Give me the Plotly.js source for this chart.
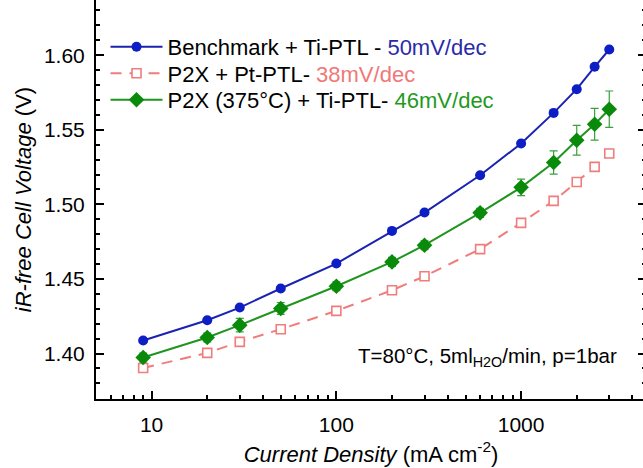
<!DOCTYPE html>
<html>
<head>
<meta charset="utf-8">
<script src="https://cdn.plot.ly/plotly-3.0.1.min.js"></script>
<style>
html,body{margin:0;padding:0;overflow:hidden;background:#fff;width:643px;height:468px;}
#chart{width:646px;height:468px;}
</style>
</head>
<body>
<div id="chart"></div>
<script>
// Data
var currentDensity = [9, 20, 30, 50, 100, 200, 300, 600, 1000, 1500, 2000, 2500, 3000];
var benchmarkTi = [1.4087, 1.4223, 1.4308, 1.4436, 1.4603, 1.4822, 1.4945, 1.5195, 1.5408, 1.5613, 1.5772, 1.5922, 1.6038];
var p2xPt = [1.3903, 1.4004, 1.4078, 1.4163, 1.4286, 1.4424, 1.4518, 1.4700, 1.4876, 1.5023, 1.5150, 1.5251, 1.5341];
var p2x375Ti = [1.3973, 1.4107, 1.4190, 1.4302, 1.4451, 1.4614, 1.4726, 1.4943, 1.5114, 1.5281, 1.5430, 1.5537, 1.5638];
var p2x375TiErr = [0.003, 0.003, 0.0045, 0.004, 0.003, 0.003, 0.003, 0.003, 0.0055, 0.0078, 0.010, 0.0106, 0.0122];

var seriesNames = [
  'Benchmark + Ti-PTL - <span style="color:#2a2aa8">50mV/dec</span>',
  'P2X + Pt-PTL- <span style="color:#f07878">38mV/dec</span>',
  'P2X (375°C) + Ti-PTL- <span style="color:#1f9a1f">46mV/dec</span>'
];
var yTickVals = [1.40, 1.45, 1.50, 1.55, 1.60];
var xTickVals = [10, 100, 1000];
var xTickText = ['10', '100', '1000'];
var xMinorVals = [6, 7, 8, 9, 20, 30, 40, 50, 60, 70, 80, 90, 200, 300, 400, 500, 600, 700, 800, 900, 2000, 3000, 4000];

var FONT = 'Arial, "Liberation Sans", Helvetica, sans-serif';
var BLUE = '#1a23b0', RED = '#f07c7c', GREEN = '#1f951f';

var traces = [
  {
    x: currentDensity, y: benchmarkTi, name: seriesNames[0], legend: 'legend',
    mode: 'lines+markers', type: 'scatter',
    line: {color: BLUE, width: 2},
    marker: {color: '#0c1ec4', size: 10, symbol: 'circle'}
  },
  {
    x: currentDensity, y: p2xPt, name: seriesNames[1], legend: 'legend2',
    mode: 'lines+markers', type: 'scatter',
    line: {color: RED, width: 2, dash: '11px,8px'},
    marker: {color: '#ffffff', size: 9, symbol: 'square', line: {color: RED, width: 1.6}}
  },
  {
    x: currentDensity, y: p2x375Ti, name: seriesNames[2], legend: 'legend3',
    mode: 'lines+markers', type: 'scatter',
    line: {color: GREEN, width: 2},
    marker: {color: '#0a8a0a', size: 12, symbol: 'diamond'},
    error_y: {type: 'data', array: p2x375TiErr, visible: true, color: '#3aa03a', thickness: 1.2, width: 4}
  }
];

function leg(yc) {
  return {
    x: 0.0173, y: 1 - yc / 399, xanchor: 'left', yanchor: 'middle',
    bgcolor: 'rgba(0,0,0,0)', borderwidth: 0,
    font: {family: FONT, size: 22, color: '#000'},
    itemwidth: 52
  };
}

var layout = {
  width: 646, height: 468,
  margin: {l: 96, r: 0, t: 0, b: 69},
  paper_bgcolor: '#fff', plot_bgcolor: '#fff',
  font: {family: FONT, size: 21, color: '#000'},
  showlegend: true,
  legend: leg(47),
  legend2: leg(73.5),
  legend3: leg(100),
  xaxis: {
    type: 'log', range: [Math.log10(5), 3.676],
    tickmode: 'array', tickvals: xTickVals, ticktext: xTickText,
    ticks: 'inside', ticklen: 8, tickwidth: 2, tickcolor: '#000',
    ticklabelstandoff: 6,
    showline: true, linewidth: 2, linecolor: '#000', mirror: false,
    showgrid: false, zeroline: false,
    tickfont: {family: FONT, size: 21, color: '#000'},
    minor: {tickmode: 'array', tickvals: xMinorVals, ticks: 'inside', ticklen: 4, tickwidth: 2, tickcolor: '#000', showgrid: false},
    title: {text: '<i>Current Density</i> (mA cm<sup>-2</sup>)', font: {family: FONT, size: 22, color: '#000'}, standoff: 11}
  },
  yaxis: {
    range: [1.3695, 1.637],
    tickmode: 'array', tickvals: yTickVals, tickformat: '.2f',
    ticks: 'inside', ticklen: 8, tickwidth: 2, tickcolor: '#000',
    ticklabelstandoff: 5,
    showline: true, linewidth: 2, linecolor: '#000', mirror: 'ticks',
    showgrid: false, zeroline: false,
    tickfont: {family: FONT, size: 21, color: '#000'},
    minor: {dtick: 0.01, ticks: 'inside', ticklen: 4, tickwidth: 2, tickcolor: '#000', showgrid: false},
    title: {text: '<i>iR-free Cell Voltage</i> (V)', font: {family: FONT, size: 22, color: '#000'}, standoff: 6}
  },
  annotations: [{
    xref: 'paper', yref: 'paper', x: 0.711, y: 0.105, xanchor: 'center', yanchor: 'middle',
    text: 'T=80°C, 5ml<sub>H2O</sub>/min, p=1bar', showarrow: false,
    font: {family: FONT, size: 20.5, color: '#000'}
  }]
};

Plotly.newPlot('chart', traces, layout, {displayModeBar: false, staticPlot: true});
</script>
</body>
</html>
